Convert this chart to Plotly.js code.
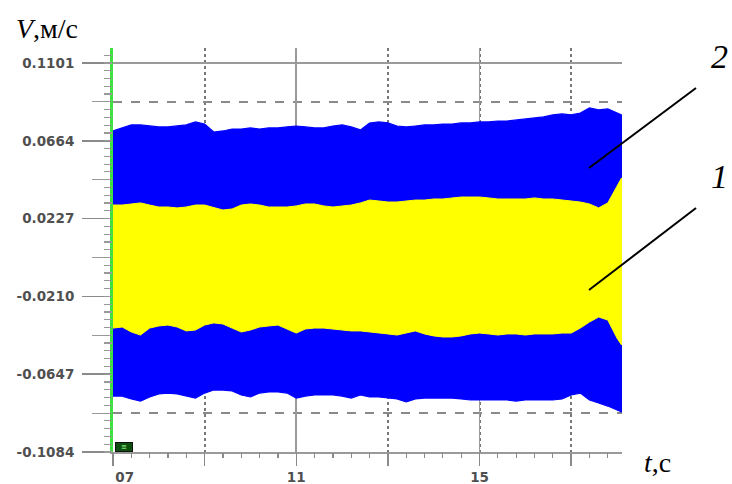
<!DOCTYPE html>
<html>
<head>
<meta charset="utf-8">
<script src="https://cdn.plot.ly/plotly-3.0.1.min.js"></script>
<style>html,body{margin:0;padding:0;background:#fff;}#chart{width:732px;height:484px;}</style>
</head>
<body>
<div id="chart"></div>
<script>
// time, s
const time = [7.0,7.2,7.4,7.6,7.8,8.0,8.2,8.4,8.6,8.8,
  9.0,9.2,9.4,9.6,9.8,10.0,10.2,10.4,10.6,10.8,
  11.0,11.2,11.4,11.6,11.8,12.0,12.2,12.4,
  12.6,12.8,13.0,13.2,13.4,13.6,13.8,14.0,14.2,14.4,
  14.6,14.8,15.0,15.2,15.4,15.6,15.8,16.0,16.2,16.4,
  16.6,16.8,17.0,17.2,17.4,17.6,17.8,18.0,18.1];

// series 2 (blue) envelope, m/s
const s2Upper = [0.0719,0.0736,0.0753,0.0753,0.0747,0.0742,0.0742,0.0747,0.0753,0.0770,
  0.0758,0.0713,0.0719,0.0730,0.0730,0.0736,0.0730,0.0736,0.0736,0.0742,
  0.0747,0.0742,0.0736,0.0736,0.0747,0.0753,0.0742,0.0725,
  0.0764,0.0770,0.0764,0.0747,0.0742,0.0747,0.0753,0.0753,0.0758,0.0758,
  0.0764,0.0764,0.0770,0.0770,0.0775,0.0775,0.0781,0.0786,0.0792,0.0798,
  0.0809,0.0815,0.0809,0.0820,0.0848,0.0837,0.0843,0.0820,0.0809];
const s2Lower = [-0.0770,-0.0770,-0.0786,-0.0798,-0.0775,-0.0758,-0.0753,-0.0758,-0.0770,-0.0781,
  -0.0753,-0.0736,-0.0736,-0.0741,-0.0764,-0.0775,-0.0753,-0.0747,-0.0747,-0.0753,
  -0.0781,-0.0770,-0.0764,-0.0764,-0.0764,-0.0770,-0.0781,-0.0764,
  -0.0775,-0.0775,-0.0781,-0.0786,-0.0803,-0.0786,-0.0781,-0.0781,-0.0781,-0.0781,
  -0.0786,-0.0792,-0.0792,-0.0792,-0.0792,-0.0792,-0.0798,-0.0792,-0.0792,-0.0792,
  -0.0792,-0.0786,-0.0764,-0.0753,-0.0792,-0.0809,-0.0826,-0.0848,-0.0859];

// series 1 (yellow) envelope, m/s
const s1Upper = [0.0303,0.0303,0.0309,0.0315,0.0303,0.0292,0.0292,0.0287,0.0292,0.0303,
  0.0303,0.0287,0.0275,0.0281,0.0303,0.0309,0.0303,0.0292,0.0292,0.0292,
  0.0298,0.0309,0.0309,0.0298,0.0292,0.0298,0.0303,0.0315,
  0.0331,0.0326,0.0320,0.0320,0.0326,0.0331,0.0331,0.0337,0.0337,0.0343,
  0.0348,0.0348,0.0348,0.0343,0.0337,0.0337,0.0337,0.0337,0.0343,0.0337,
  0.0337,0.0331,0.0326,0.0320,0.0309,0.0287,0.0315,0.0405,0.0455];
const s1Lower = [-0.0388,-0.0382,-0.0410,-0.0427,-0.0388,-0.0376,-0.0371,-0.0382,-0.0404,-0.0399,
  -0.0371,-0.0359,-0.0365,-0.0388,-0.0410,-0.0399,-0.0382,-0.0376,-0.0371,-0.0393,
  -0.0416,-0.0393,-0.0388,-0.0388,-0.0393,-0.0399,-0.0404,-0.0404,
  -0.0410,-0.0416,-0.0421,-0.0427,-0.0416,-0.0404,-0.0421,-0.0432,-0.0438,-0.0438,
  -0.0432,-0.0421,-0.0416,-0.0421,-0.0427,-0.0421,-0.0421,-0.0427,-0.0421,-0.0421,
  -0.0421,-0.0416,-0.0416,-0.0388,-0.0354,-0.0326,-0.0343,-0.0444,-0.0483];

// axis ticks
const yTickVals = [-0.1084,-0.0647,-0.0210,0.0227,0.0664,0.1101];
const yTickText = ['-0.1084','-0.0647','-0.0210','0.0227','0.0664','0.1101'];
const xTickVals = [7,11,15];
const xTickText = ['\u00a0\u00a0\u00a0\u00a0\u00a007','11','15'];

function band(xs, up, lo){
  return {x: xs.concat(xs.slice().reverse()), y: up.concat(lo.slice().reverse())};
}
const b2 = band(time, s2Upper, s2Lower);
const b1 = band(time, s1Upper, s1Lower);

const tickFont = {family:'DejaVu Sans', size:13.5, color:'#505050', weight:'bold'};

const traces = [
  {x:b2.x, y:b2.y, type:'scatter', mode:'lines', fill:'toself', fillcolor:'#0000ff',
   line:{color:'#0000ff', width:1.2}, hoverinfo:'skip', showlegend:false},
  {x:b1.x, y:b1.y, type:'scatter', mode:'lines', fill:'toself', fillcolor:'#ffff00',
   line:{color:'#ffff00', width:1}, hoverinfo:'skip', showlegend:false},
  // invisible helpers so the overlay axes (fine ticks) are drawn
  {x:[time[0]], y:[s1Upper[0]], xaxis:'x2', yaxis:'y', type:'scatter', mode:'markers',
   marker:{opacity:0}, hoverinfo:'skip', showlegend:false},
  {x:[time[0]], y:[s1Upper[0]], xaxis:'x', yaxis:'y2', type:'scatter', mode:'markers',
   marker:{opacity:0}, hoverinfo:'skip', showlegend:false}
];

const layout = {
  width:732, height:484,
  margin:{l:113, r:110, t:48, b:32},
  paper_bgcolor:'#ffffff', plot_bgcolor:'#ffffff',
  showlegend:false,
  xaxis:{
    range:[7,18.11], tickmode:'array', tickvals:xTickVals, ticktext:xTickText,
    ticks:'outside', ticklen:12, tickwidth:1.5, tickcolor:'#8a8a8a',
    showgrid:true, gridcolor:'#9a9a9a', gridwidth:1.8,
    showline:true, linecolor:'#9a9a9a', linewidth:1.5, zeroline:false,
    tickfont:tickFont, ticklabelstandoff:0,
    minor:{tick0:7, dtick:2, ticks:'outside', ticklen:12, tickwidth:1.5, tickcolor:'#8a8a8a',
           showgrid:true, griddash:'dot', gridcolor:'#777777', gridwidth:2}
  },
  xaxis2:{
    overlaying:'x', anchor:'y', side:'bottom', range:[7,18.11],
    tickmode:'linear', tick0:7, dtick:0.4, ticks:'outside', ticklen:5, tickwidth:1.2, tickcolor:'#8a8a8a',
    showticklabels:false, showgrid:false, zeroline:false, showline:false
  },
  yaxis:{
    range:[-0.1084,0.1185], tickmode:'array', tickvals:yTickVals, ticktext:yTickText,
    ticks:'outside', ticklen:28, tickwidth:1.5, tickcolor:'#8a8a8a',
    showgrid:true, gridcolor:'#9a9a9a', gridwidth:1.8,
    showline:true, linecolor:'#3fe03f', linewidth:3, zeroline:false,
    tickfont:tickFont, ticklabelstandoff:5,
    minor:{tick0:-0.1084, dtick:0.02185, ticks:'outside', ticklen:18, tickwidth:1.2, tickcolor:'#999999',
           showgrid:true, griddash:'dash', gridcolor:'#8a8a8a', gridwidth:1.3}
  },
  yaxis2:{
    overlaying:'y', anchor:'x', side:'left', range:[-0.1084,0.1185],
    tickmode:'linear', tick0:-0.1084, dtick:0.00437, ticks:'outside', ticklen:8, tickwidth:1.2, tickcolor:'#999999',
    showticklabels:false, showgrid:false, zeroline:false, showline:false
  },
  shapes:[
    {type:'line', xref:'paper', yref:'paper', x0:1.1454, y0:0.9010, x1:0.9352, y1:0.7030,
     line:{color:'#000000', width:2}},
    {type:'line', xref:'paper', yref:'paper', x0:1.1454, y0:0.6040, x1:0.9352, y1:0.4010,
     line:{color:'#000000', width:2}}
  ],
  annotations:[
    {xref:'paper', yref:'paper', x:-0.1297, y:1.0495, text:'<i>V</i>,м/с', showarrow:false,
     font:{family:'Liberation Serif', size:28, color:'#000'}, xanchor:'center', yanchor:'middle'},
    {xref:'paper', yref:'paper', x:1.0707, y:-0.027, text:'<i>t</i>,с', showarrow:false,
     font:{family:'Liberation Serif', size:28, color:'#000'}, xanchor:'center', yanchor:'middle'},
    {xref:'paper', yref:'paper', x:1.1709, y:0.978, text:'<i>2</i>', showarrow:false,
     font:{family:'Liberation Serif', size:34, color:'#000'}, xanchor:'left', yanchor:'middle'},
    {xref:'paper', yref:'paper', x:1.1709, y:0.681, text:'<i>1</i>', showarrow:false,
     font:{family:'Liberation Serif', size:34, color:'#000'}, xanchor:'left', yanchor:'middle'},
    {xref:'paper', yref:'paper', x:0.004, y:0.0, text:'<b>≡</b>', showarrow:false,
     font:{family:'DejaVu Sans', size:7, color:'#7fe07f'}, bgcolor:'#0d4d0d', bordercolor:'#111',
     borderwidth:1, borderpad:0, xanchor:'left', yanchor:'bottom', width:16, height:8}
  ]
};

Plotly.newPlot('chart', traces, layout, {staticPlot:true, displayModeBar:false});
</script>
</body>
</html>
